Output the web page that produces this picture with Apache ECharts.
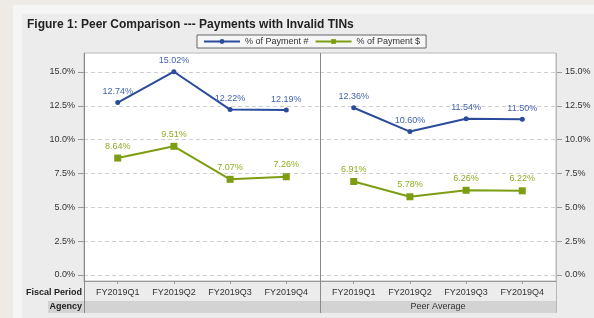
<!DOCTYPE html>
<html><head><meta charset="utf-8">
<script src="https://cdn.jsdelivr.net/npm/echarts@6/dist/echarts.min.js"></script>
<style>html,body{margin:0;padding:0;background:#eeebe7;}#c{width:594px;height:318px;}</style>
</head><body><div id="c"></div>
<script>
const periods = ['FY2019Q1','FY2019Q2','FY2019Q3','FY2019Q4'];
const panels = ['', 'Peer Average'];
const seriesNames = ['% of Payment #', '% of Payment $'];
const agencyCount = [12.74, 15.02, 12.22, 12.19];
const agencyDollar = [8.64, 9.51, 7.07, 7.26];
const peerCount = [12.36, 10.60, 11.54, 11.50];
const peerDollar = [6.91, 5.78, 6.26, 6.22];
const yTicks = [0, 2.5, 5, 7.5, 10, 12.5, 15];

const FONT = 'Liberation Sans, Arial, sans-serif';
const BLUE = '#2B4C9B', BLUE_L = '#4463AE';
const GREEN = '#7D9E12', GREEN_L = '#8FAE22';

function pts(arr){ return arr.map((v,i)=>[i,v]); }
function mkSeries(name, arr, gi, color, lcolor, symbol, size){
  return {
    name, type:'line', xAxisIndex:gi, yAxisIndex:gi, data:pts(arr), clip:false,
    symbol, symbolSize:size, color, lineStyle:{color, width:2}, itemStyle:{color},
    label:{show:true, position:'top', distance:4, color:lcolor, fontSize:9, fontFamily:FONT,
      formatter:p=>p.value[1].toFixed(2)+'%'},
    labelLayout:{hideOverlap:false},
    z:5
  };
}
function xAx(gi){
  return {type:'value', gridIndex:gi, min:-0.6, max:3.6, offset:6,
    axisLine:{show:true, onZero:false, lineStyle:{color:'#999'}},
    axisTick:{show:true, customValues:[0,1,2,3], length:3, lineStyle:{color:'#999'}},
    axisLabel:{customValues:[0,1,2,3], formatter:v=>periods[Math.round(v)], color:'#333', fontSize:9, fontFamily:FONT, margin:7},
    splitLine:{show:false}};
}
function yAx(gi, pos){
  return {type:'value', gridIndex:gi, position:pos, min:0, max:15, interval:2.5,
    axisLine:{show:false, onZero:false},
    axisTick:{show:true, length:6, lineStyle:{color:'#999'}},
    axisLabel:{customValues:yTicks, formatter:v=>v.toFixed(1)+'%', color:'#333', fontSize:9, fontFamily:FONT, margin:9},
    splitLine:{show:true, lineStyle:{color:'#cfcfcf', type:[4,3]}}};
}

const chart = echarts.init(document.getElementById('c'), null, {renderer:'canvas'});
chart.setOption({
  backgroundColor:'#eeebe7',
  animation:false,
  title:{text:'Figure 1: Peer Comparison --- Payments with Invalid TINs', left:27, top:19, padding:0,
    textStyle:{fontSize:12, fontWeight:'bold', color:'#222', fontFamily:FONT}},
  legend:{data:seriesNames.map(n=>({name:n})), left:197, top:35, itemWidth:36, itemHeight:6, itemGap:6,
    padding:[2,6], borderColor:'#666', borderWidth:1, backgroundColor:'#f7f7f7', borderRadius:0,
    textStyle:{fontSize:9, color:'#333', fontFamily:FONT}},
  grid:[
    {left:84, right:274, top:72, bottom:43},
    {left:320, right:38, top:72, bottom:43}
  ],
  xAxis:[xAx(0), xAx(1)],
  yAxis:[yAx(0,'left'), yAx(1,'right')],
  series:[
    mkSeries(seriesNames[0], agencyCount, 0, BLUE, BLUE_L, 'circle', 5),
    mkSeries(seriesNames[1], agencyDollar, 0, GREEN, GREEN_L, 'rect', 7),
    mkSeries(seriesNames[0], peerCount, 1, BLUE, BLUE_L, 'circle', 5),
    mkSeries(seriesNames[1], peerDollar, 1, GREEN, GREEN_L, 'rect', 7)
  ],
  graphic:[
    {type:'rect', z:-10, shape:{x:13, y:5, width:581, height:313}, style:{fill:'#f5f5f5'}},
    {type:'rect', z:-9, shape:{x:22, y:14, width:572, height:304}, style:{fill:'#ececec'}},
    {type:'rect', z:-8, shape:{x:84, y:53, width:472, height:228}, style:{fill:'#ffffff', stroke:'#b8b8b8', lineWidth:1}},
    {type:'rect', z:-8, shape:{x:48, y:301, width:508, height:12}, style:{fill:'#d3d3d3'}},
    {type:'line', z:10, shape:{x1:84.5, y1:53, x2:84.5, y2:313}, style:{stroke:'#8a8a8a', lineWidth:1}},
    {type:'line', z:10, shape:{x1:320.5, y1:53, x2:320.5, y2:313}, style:{stroke:'#8a8a8a', lineWidth:1}},
    {type:'line', z:10, shape:{x1:556.5, y1:53, x2:556.5, y2:313}, style:{stroke:'#b8b8b8', lineWidth:1}},
    {type:'text', z:10, style:{text:'Fiscal Period', x:82, y:293, align:'right', verticalAlign:'middle', font:'bold 9px '+FONT, fill:'#222'}},
    {type:'text', z:10, style:{text:'Agency', x:82, y:307, align:'right', verticalAlign:'middle', font:'bold 9px '+FONT, fill:'#222'}},
    {type:'text', z:10, style:{text:panels[0], x:202, y:307, align:'center', verticalAlign:'middle', font:'9px '+FONT, fill:'#333'}},
    {type:'text', z:10, style:{text:panels[1], x:438, y:307, align:'center', verticalAlign:'middle', font:'9px '+FONT, fill:'#333'}}
  ]
});
</script></body></html>
